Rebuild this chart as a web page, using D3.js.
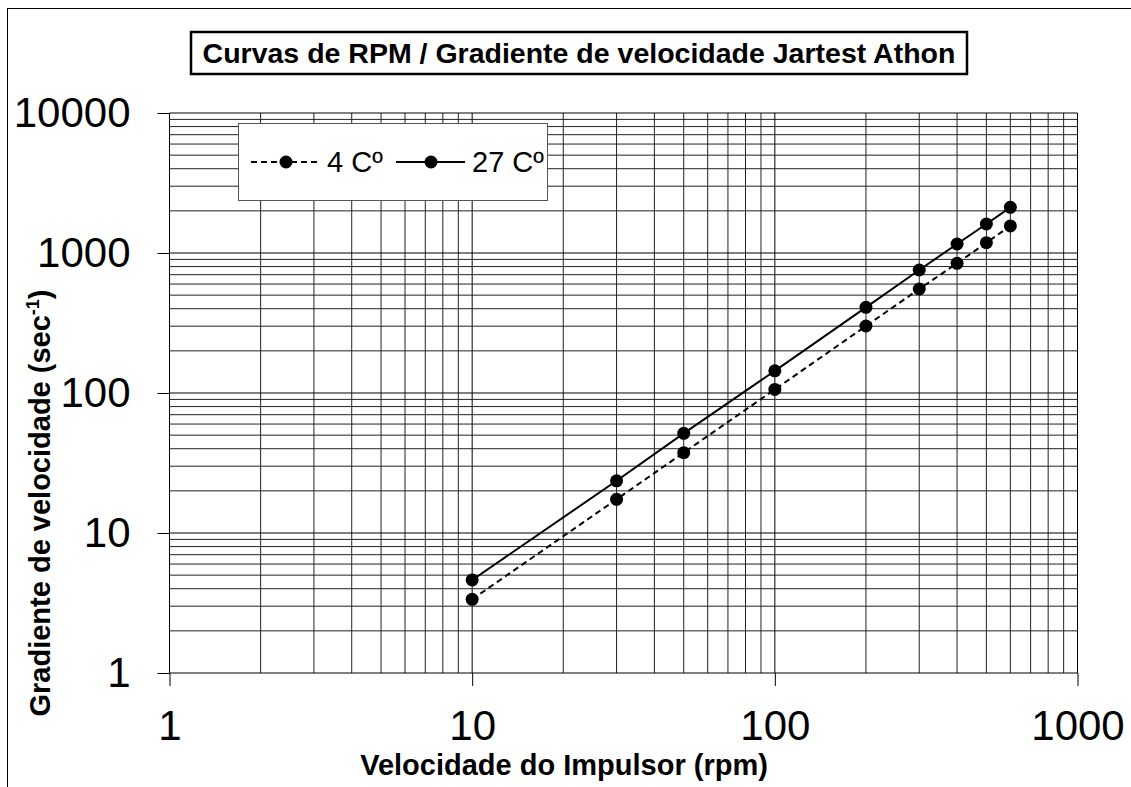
<!DOCTYPE html>
<html>
<head>
<meta charset="utf-8">
<script src="https://cdn.jsdelivr.net/npm/d3@7"></script>
<style>
  body { margin: 0; background: #fff; }
  text { font-family: "Liberation Sans", Arial, sans-serif; }
</style>
</head>
<body>
<div id="chart"></div>
<script>
const rpm = [10, 30, 50, 100, 200, 300, 400, 500, 600];
const g4 = [3.36, 17.4, 37.5, 106, 301, 553, 844, 1185, 1560];
const g27 = [4.62, 23.6, 51.5, 144, 409, 756, 1160, 1611, 2120];
const xTicks = [1, 10, 100, 1000];
const yTicks = [1, 10, 100, 1000, 10000];

const width = 1131, height = 787;
const margin = { left: 169.5, top: 113, right: 1131 - 1077.5, bottom: 787 - 673 };

const svg = d3.select('#chart')
    .append('svg')
    .attr('width', width)
    .attr('height', height);

// outer frame
svg.append('rect')
    .attr('x', 7.5).attr('y', 8.5)
    .attr('width', width).attr('height', height)
    .attr('fill', 'none')
    .attr('stroke', '#000')
    .attr('stroke-width', 1);

const x = d3.scaleLog()
    .domain([1, 1000])
    .range([margin.left, width - margin.right]);

const y = d3.scaleLog()
    .domain([1, 10000])
    .range([height - margin.bottom, margin.top]);

// minor values for the grid
const minor = (lo, hi) => {
    const out = [];
    for (let d = lo; d < hi; d *= 10)
        for (let k = 1; k <= 10; k++) out.push(d * k);
    return Array.from(new Set(out));
};

const grid = svg.append('g').attr('class', 'grid');

grid.selectAll('line.v')
    .data(minor(1, 1000))
    .enter()
        .append('line')
        .attr('x1', d => x(d)).attr('x2', d => x(d))
        .attr('y1', y(1)).attr('y2', y(10000))
        .attr('stroke', d => Math.log10(d) % 1 === 0 ? '#000' : '#222')
        .attr('stroke-width', 1);

grid.selectAll('line.h')
    .data(minor(1, 10000))
    .enter()
        .append('line')
        .attr('y1', d => y(d)).attr('y2', d => y(d))
        .attr('x1', x(1)).attr('x2', x(1000))
        .attr('stroke', d => Math.log10(d) % 1 === 0 ? '#000' : '#222')
        .attr('stroke-width', 1);

// axes
const xAxis = svg.append('g')
    .attr('transform', `translate(0, ${y(1)})`)
    .call(d3.axisBottom(x)
        .tickValues(xTicks)
        .tickSize(13)
        .tickPadding(24)
        .tickFormat(d3.format('d')));
xAxis.select('.domain').remove();
xAxis.selectAll('line').attr('stroke', '#000');
xAxis.selectAll('text')
    .attr('font-size', 42)
    .attr('fill', '#000')
    .attr('font-family', '"Liberation Sans", Arial, sans-serif');

const yAxis = svg.append('g')
    .attr('transform', `translate(${x(1)}, 0)`)
    .call(d3.axisLeft(y)
        .tickValues(yTicks)
        .tickSize(12)
        .tickPadding(27)
        .tickFormat(d3.format('d')));
yAxis.select('.domain').remove();
yAxis.selectAll('line').attr('stroke', '#000');
yAxis.selectAll('text')
    .attr('font-size', 42)
    .attr('fill', '#000')
    .attr('font-family', '"Liberation Sans", Arial, sans-serif');

// series
const pts = (vals) => rpm.map((r, i) => [r, vals[i]]);
const line = d3.line().x(d => x(d[0])).y(d => y(d[1]));

const series = [
    { name: '4 Cº', vals: g4, dash: '6,4' },
    { name: '27 Cº', vals: g27, dash: null }
];

series.forEach(s => {
    svg.append('path')
        .datum(pts(s.vals))
        .attr('d', line)
        .attr('fill', 'none')
        .attr('stroke', '#000')
        .attr('stroke-width', 2)
        .attr('stroke-dasharray', s.dash);

    svg.append('g').selectAll('circle')
        .data(pts(s.vals))
        .enter()
            .append('circle')
            .attr('cx', d => x(d[0]))
            .attr('cy', d => y(d[1]))
            .attr('r', 6.5)
            .attr('fill', '#000');
});

// legend
const legend = svg.append('g');
legend.append('rect')
    .attr('x', 238.5).attr('y', 123.5)
    .attr('width', 309).attr('height', 77)
    .attr('fill', '#fff')
    .attr('stroke', '#555')
    .attr('stroke-width', 1);

const legX = [251, 396];
series.forEach((s, i) => {
    const lx = legX[i];
    legend.append('line')
        .attr('x1', lx).attr('x2', lx + 69)
        .attr('y1', 162).attr('y2', 162)
        .attr('stroke', '#000')
        .attr('stroke-width', 2)
        .attr('stroke-dasharray', s.dash);
    legend.append('circle')
        .attr('cx', lx + 35).attr('cy', 162)
        .attr('r', 6.5)
        .attr('fill', '#000');
    legend.append('text')
        .attr('x', lx + 76).attr('y', 172)
        .attr('font-size', 29)
        .attr('fill', '#000')
        .text(s.name);
});

// title
svg.append('rect')
    .attr('x', 191).attr('y', 32)
    .attr('width', 776).attr('height', 42)
    .attr('fill', '#fff')
    .attr('stroke', '#000')
    .attr('stroke-width', 2.5);

svg.append('text')
    .attr('x', 579).attr('y', 63)
    .attr('text-anchor', 'middle')
    .attr('font-size', 28.5)
    .attr('font-weight', 'bold')
    .text('Curvas de RPM / Gradiente de velocidade Jartest Athon');

// axis titles
svg.append('text')
    .attr('x', 564).attr('y', 775)
    .attr('text-anchor', 'middle')
    .attr('font-size', 29)
    .attr('font-weight', 'bold')
    .text('Velocidade do Impulsor (rpm)');

const yt = svg.append('text')
    .attr('transform', 'translate(50, 503) rotate(-90)')
    .attr('text-anchor', 'middle')
    .attr('font-size', 29)
    .attr('font-weight', 'bold');
yt.append('tspan').text('Gradiente de velocidade (sec');
yt.append('tspan').attr('font-size', 18).attr('dy', -11).text('-1');
yt.append('tspan').attr('dy', 11).text(')');
</script>
</body>
</html>
